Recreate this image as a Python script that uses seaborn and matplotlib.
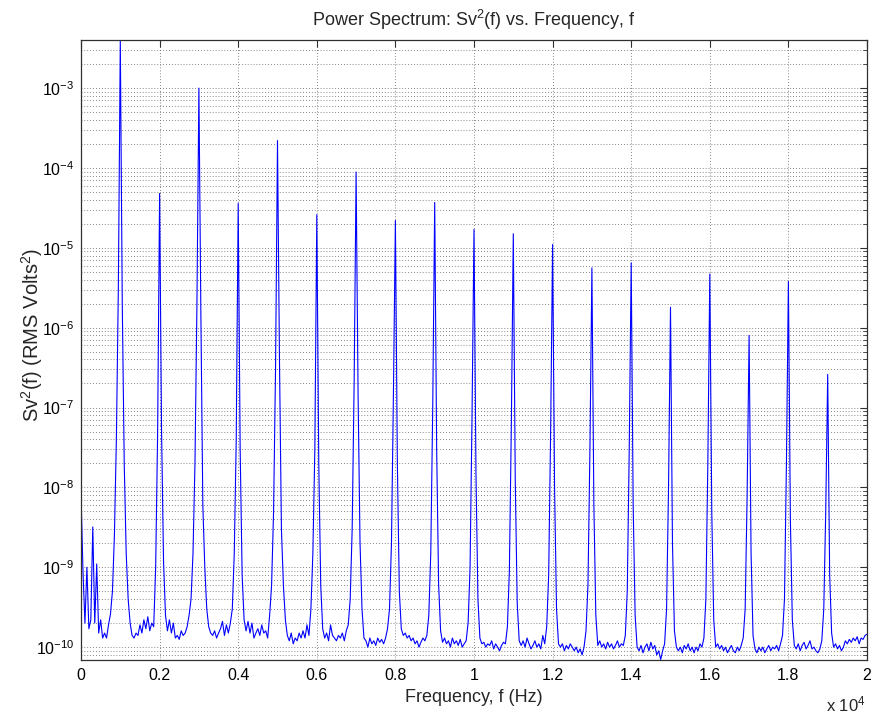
import numpy as np
import pandas as pd
import matplotlib
matplotlib.use("Agg")
import matplotlib.pyplot as plt
import seaborn as sns
from matplotlib.ticker import LogLocator, NullFormatter, FixedLocator, FixedFormatter

# frequency grid (Hz), 50 Hz spacing, rows of 1 kHz
freq_step = 50

# harmonic peak heights (RMS Volts^2), at 1k..19k Hz
peak_freqs = [1000 * k for k in range(1, 20)]
peak_heights = [4.0e-3, 4.8e-5, 1.0e-3, 3.6e-5, 2.2e-4, 2.6e-5, 8.9e-5, 2.2e-5, 3.7e-5,
                1.7e-5, 1.5e-5, 1.1e-5, 5.6e-6, 6.5e-6, 1.8e-6, 4.7e-6, 8.0e-7, 3.8e-6, 2.6e-7]

# spectrum, one row per kHz band (f = 1000*row + 50*j)
psd_rows = [
    [8.5e-9, 9e-10, 2e-10, 1e-9, 1.7e-10, 2.2e-10, 3.2e-9, 2e-10, 1.1e-9, 1.5e-10,
     2.2e-10, 1.3e-10, 1.5e-10, 1.3e-10, 1.9e-10, 2.6e-10, 5e-10, 2.5e-9, 4e-8, 3e-6],
    [4.0e-3, 2e-6, 2e-8, 1.5e-9, 4e-10, 2.0e-10, 1.4e-10, 1.3e-10, 1.5e-10, 1.4e-10,
     1.9e-10, 1.5e-10, 2.2e-10, 1.7e-10, 2.4e-10, 1.6e-10, 2.0e-10, 1.8e-10, 1e-9, 5e-8],
    [4.8e-5, 5e-8, 1.2e-9, 2.5e-10, 1.6e-10, 2.2e-10, 1.5e-10, 2.0e-10, 1.3e-10, 1.4e-10,
     1.25e-10, 1.6e-10, 1.4e-10, 1.5e-10, 1.8e-10, 2.5e-10, 4e-10, 1.5e-9, 2e-8, 2e-6],
    [1.0e-3, 1.5e-6, 6e-9, 1e-9, 3e-10, 1.8e-10, 1.5e-10, 1.4e-10, 1.6e-10, 1.3e-10,
     1.5e-10, 1.7e-10, 2.1e-10, 1.4e-10, 1.9e-10, 1.5e-10, 2.0e-10, 3e-10, 1.5e-9, 4e-8],
    [3.6e-5, 3e-8, 8e-10, 2.2e-10, 1.6e-10, 2.1e-10, 1.5e-10, 2.0e-10, 1.3e-10, 1.5e-10,
     1.7e-10, 1.4e-10, 1.9e-10, 1.5e-10, 1.6e-10, 1.3e-10, 2.5e-10, 6e-10, 5e-9, 3e-7],
    [2.2e-4, 4e-7, 3e-9, 6e-10, 2.2e-10, 1.4e-10, 1.2e-10, 1.5e-10, 1.1e-10, 1.3e-10,
     1.2e-10, 1.5e-10, 1.3e-10, 1.6e-10, 1.3e-10, 1.9e-10, 1.4e-10, 3e-10, 1.5e-9, 3e-8],
    [2.6e-5, 2e-8, 6e-10, 1.7e-10, 1.3e-10, 1.5e-10, 1.2e-10, 1.9e-10, 1.4e-10, 1.3e-10,
     1.2e-10, 1.4e-10, 1.3e-10, 1.5e-10, 1.2e-10, 1.6e-10, 1.9e-10, 4e-10, 3e-9, 2e-7],
    [8.9e-5, 1.5e-7, 2e-9, 3e-10, 1.3e-10, 1.2e-10, 1.0e-10, 1.3e-10, 1.1e-10, 1.2e-10,
     1.05e-10, 1.3e-10, 1.15e-10, 1.25e-10, 1.1e-10, 1.3e-10, 1.7e-10, 3e-10, 2e-9, 1.5e-7],
    [2.2e-5, 2e-8, 5e-10, 1.7e-10, 1.4e-10, 1.5e-10, 1.3e-10, 1.4e-10, 1.2e-10, 1.3e-10,
     1.1e-10, 1.2e-10, 1.0e-10, 1.15e-10, 1.3e-10, 1.2e-10, 1.4e-10, 2.5e-10, 1.5e-9, 1e-7],
    [3.7e-5, 3e-8, 6e-10, 1.6e-10, 1.15e-10, 1.3e-10, 1.1e-10, 1.2e-10, 1.0e-10, 1.3e-10,
     1.1e-10, 1.2e-10, 1.05e-10, 1.25e-10, 1.0e-10, 1.1e-10, 1.2e-10, 2e-10, 1e-9, 8e-8],
    [1.7e-5, 1.5e-8, 4e-10, 1.3e-10, 1.1e-10, 1.15e-10, 1.0e-10, 1.1e-10, 1.05e-10, 1.2e-10,
     0.95e-10, 1.1e-10, 1.0e-10, 0.9e-10, 1.05e-10, 1.15e-10, 1.1e-10, 1.8e-10, 9e-10, 6e-8],
    [1.5e-5, 1.2e-8, 3.5e-10, 1.2e-10, 1.05e-10, 1.2e-10, 1.0e-10, 1.3e-10, 1.1e-10, 0.95e-10,
     1.05e-10, 1.2e-10, 1.0e-10, 1.1e-10, 0.95e-10, 1.4e-10, 1.1e-10, 1.8e-10, 8e-10, 5e-8],
    [1.1e-5, 1e-8, 3e-10, 1.1e-10, 1.0e-10, 1.1e-10, 0.9e-10, 1.05e-10, 0.95e-10, 1.1e-10,
     1.0e-10, 0.9e-10, 1.0e-10, 0.85e-10, 0.95e-10, 0.8e-10, 1.0e-10, 1.6e-10, 6e-10, 3e-8],
    [5.6e-6, 6e-9, 2.5e-10, 1.05e-10, 1.2e-10, 1.0e-10, 1.1e-10, 0.95e-10, 1.15e-10, 1.0e-10,
     1.1e-10, 0.95e-10, 1.05e-10, 1.2e-10, 1.0e-10, 1.1e-10, 1.05e-10, 1.4e-10, 5e-10, 3e-8],
    [6.5e-6, 6e-9, 2.5e-10, 1.0e-10, 0.9e-10, 1.05e-10, 0.85e-10, 1.0e-10, 1.1e-10, 0.9e-10,
     1.15e-10, 0.95e-10, 1.05e-10, 0.8e-10, 0.9e-10, 0.7e-10, 0.9e-10, 1.1e-10, 3e-10, 1e-8],
    [1.8e-6, 2e-9, 1.6e-10, 1.0e-10, 0.9e-10, 1.0e-10, 0.85e-10, 1.05e-10, 0.95e-10, 1.1e-10,
     0.9e-10, 1.0e-10, 0.85e-10, 1.0e-10, 0.9e-10, 1.1e-10, 1.0e-10, 1.3e-10, 4e-10, 2e-8],
    [4.7e-6, 5e-9, 2.2e-10, 1.0e-10, 1.1e-10, 0.95e-10, 1.05e-10, 0.9e-10, 1.0e-10, 0.85e-10,
     0.95e-10, 1.05e-10, 0.9e-10, 0.85e-10, 1.0e-10, 0.9e-10, 1.05e-10, 1.3e-10, 3e-10, 8e-9],
    [8.0e-7, 1.5e-9, 1.4e-10, 0.95e-10, 0.85e-10, 1.0e-10, 0.9e-10, 1.0e-10, 0.85e-10, 0.95e-10,
     1.05e-10, 0.9e-10, 1.0e-10, 0.95e-10, 1.05e-10, 0.9e-10, 1.1e-10, 1.4e-10, 4e-10, 2e-8],
    [3.8e-6, 4e-9, 2.2e-10, 1.05e-10, 0.95e-10, 1.1e-10, 0.9e-10, 1.05e-10, 1.15e-10, 0.95e-10,
     1.05e-10, 1.2e-10, 0.95e-10, 1.0e-10, 0.9e-10, 0.85e-10, 0.95e-10, 1.2e-10, 3e-10, 5e-9],
    [2.6e-7, 8e-10, 1.5e-10, 1.0e-10, 1.1e-10, 0.95e-10, 1.05e-10, 0.9e-10, 1.0e-10, 1.2e-10,
     1.1e-10, 1.25e-10, 1.15e-10, 1.3e-10, 1.2e-10, 1.35e-10, 1.1e-10, 1.3e-10, 1.25e-10, 1.4e-10],
]
psd_last = 1.45e-10  # value at 20 kHz

xtick_labels = ["0", "0.2", "0.4", "0.6", "0.8", "1", "1.2", "1.4", "1.6", "1.8", "2"]

psd = [v for row in psd_rows for v in row] + [psd_last]
freq = np.arange(len(psd)) * freq_step
df = pd.DataFrame({"f": freq, "Sv2": psd})

sns.set_theme(style="white")
plt.rcParams["font.family"] = ["Liberation Sans", "DejaVu Sans"]
plt.rcParams["mathtext.fontset"] = "custom"
plt.rcParams["mathtext.rm"] = "Liberation Sans"
plt.rcParams["mathtext.it"] = "Liberation Sans:italic"
plt.rcParams["mathtext.bf"] = "Liberation Sans:bold"
plt.rcParams["mathtext.default"] = "regular"

fig = plt.figure(figsize=(8.72, 7.15), dpi=100)
ax = fig.add_axes([81 / 872, 1 - 660 / 715, 786 / 872, 620 / 715])

sns.lineplot(data=df, x="f", y="Sv2", ax=ax, color="#0000ff", linewidth=0.8)

ax.set_yscale("log")
ax.set_xlim(0, 20000)
ax.set_ylim(6.9e-11, 4.0e-3)

ax.xaxis.set_major_locator(FixedLocator(np.arange(0, 20001, 2000)))
ax.xaxis.set_major_formatter(FixedFormatter(xtick_labels))
ax.yaxis.set_major_locator(LogLocator(base=10, numticks=20))
ax.yaxis.set_minor_locator(LogLocator(base=10, subs=np.arange(2, 10), numticks=20))
ax.yaxis.set_minor_formatter(NullFormatter())

grid_kw = dict(color="#606060", linestyle=(0, (1, 2.5)), linewidth=0.6)
ax.grid(True, which="major", axis="both", **grid_kw)
ax.grid(True, which="minor", axis="y", **grid_kw)

ax.tick_params(which="both", direction="in", top=True, right=True, colors="#303030",
               labelcolor="black", labelsize=11.5)
ax.tick_params(which="major", length=5, width=0.8)
ax.tick_params(which="minor", length=3, width=0.6)
ax.tick_params(axis="x", pad=6)
ax.tick_params(axis="y", pad=5)
for s in ax.spines.values():
    s.set_color("#303030")
    s.set_linewidth(0.9)

ax.set_title("Power Spectrum: Sv$^2$(f) vs. Frequency, f", fontsize=13, pad=10)
ax.set_xlabel("Frequency, f (Hz)", fontsize=13, labelpad=4)
ax.set_ylabel("Sv$^2$(f) (RMS Volts$^2$)", fontsize=14.5)
ax.yaxis.set_label_coords((45 - 81) / 786, (660 - 335) / 620)
fig.text(866 / 872, 1 - 704 / 715, "x 10$^4$", ha="right", va="center", fontsize=12)

fig.savefig("out.png", dpi=100)
